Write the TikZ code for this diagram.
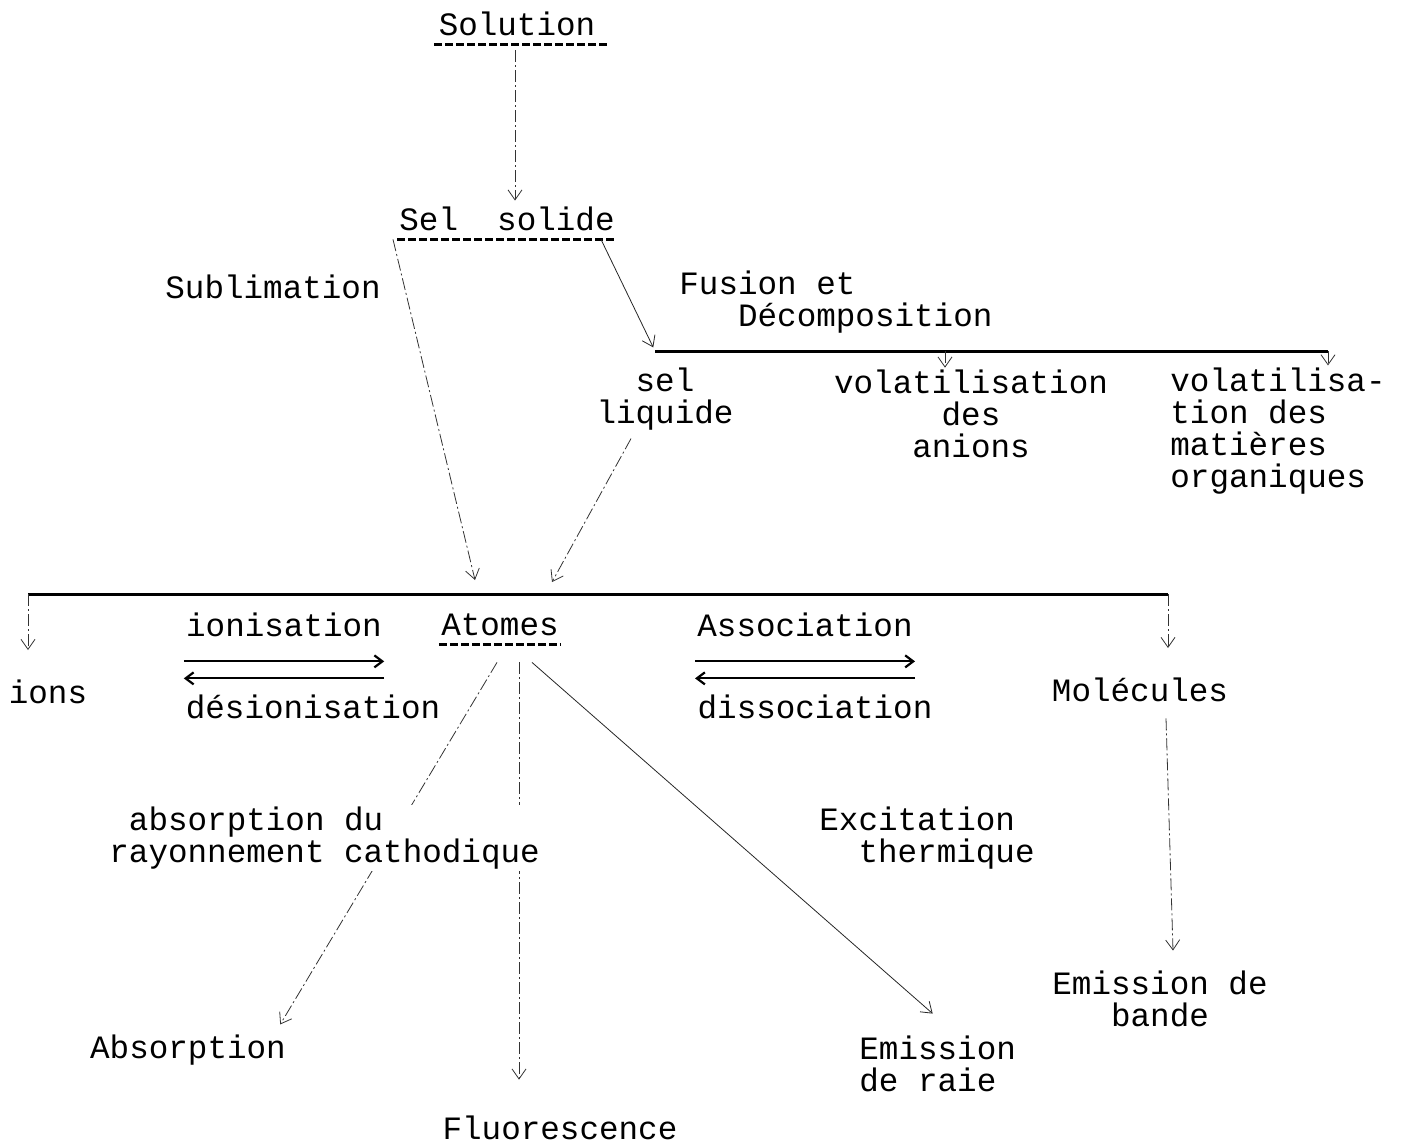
\documentclass[tikz,border=0pt]{standalone}
\usepackage{fontspec}
\setmainfont{Liberation Mono}
\usetikzlibrary{arrows.meta, positioning, calc}
\newcommand{\typed}{\fontsize{16.3pt}{16pt}\selectfont}

\begin{document}
\begin{tikzpicture}[x=0.5pt, y=-0.5pt,
  every node/.style={font=\typed, inner sep=1pt},
  link/.style={thin, black!80, dash pattern=on 6pt off 1.5pt on 1pt off 1.5pt,
    -{Straight Barb[length=5pt,width=7pt]}},
  plainlink/.style={thin, black!85, -{Straight Barb[length=5pt,width=7pt]}},
  bar/.style={line width=1.5pt},
  uline/.style={line width=1.4pt, dash pattern=on 4pt off 1.5pt},
  eqarrow/.style={line width=1.1pt, -{Straight Barb[length=4pt,width=6pt]}},
  procname/.style={fill=white, align=left, anchor=west}]
% Page frame
\useasboundingbox (0,0) rectangle (1401,1145);

% States of the sample
\node (sol) at (517,24) {Solution};
\node (sel) at (507,219) {Sel\ \ solide};
\node[align=center] (liq) at (665,399) {sel\\liquide};
\node[align=center] (anions) at (971,414) {volatilisation\\des\\anions};
\node[align=left, anchor=west] (orga) at (1168,431) {volatilisa-\\tion des\\matières\\organiques};
\node (atom) at (500,625) {Atomes};
\node (ions) at (48,692) {ions};
\node (mol) at (1140,690) {Molécules};
\node (abs) at (188,1050) {Absorption};
\node (fluo) at (560,1128) {Fluorescence};
\node[align=left, anchor=west] (raie) at (857,1064) {Emission\\de raie};
\node[align=center] (bande) at (1160,999) {Emission de\\bande};

% Process names
\node (subl) at (273,287) {Sublimation};
\node[align=left, anchor=west] (fus) at (677,302) {Fusion et\\\hspace*{1.8em}Décomposition};
\node (ionis) at (284,625) {ionisation};
\node (desion) at (313,707) {désionisation};
\node (assoc) at (805,625) {Association};
\node (diss) at (815,707) {dissociation};

% Underlines
\draw[uline] ([xshift=-1pt,yshift=-3pt]sol.south west) -- ([xshift=6pt,yshift=-3pt]sol.south east);
\draw[uline] ([yshift=-3pt]sel.south west) -- ([yshift=-3pt]sel.south east);
\draw[uline] ([yshift=-3pt]atom.south west) -- ([yshift=-3pt]atom.south east);

% Bars
\coordinate (fusL) at (655,351);
\coordinate (fusA) at (945,351);
\coordinate (fusR) at (1328,351);
\draw[bar] (fusL) -- (fusR);
\coordinate (atL) at (28,594);
\coordinate (atR) at (1168,594);
\coordinate (atIn1) at (475,580);
\coordinate (atIn2) at (552,582);
\draw[bar] (atL) -- (atR);

% Connectors
\draw[link] ([xshift=-1pt,yshift=-6pt]sol.south) -- ([xshift=4pt,yshift=2pt]sel.north);
\draw[link] ([xshift=-2pt,yshift=-3pt]sel.south west) -- (atIn1);
\draw[plainlink, shorten >=2pt] ([xshift=-8pt,yshift=-3pt]sel.south east) -- (fusL);
\draw[link] (fusA) -- (fusA |- anions.north);
\draw[link] (fusR) -- (fusR |- orga.north);
\draw[link] ([xshift=-17pt,yshift=-3pt]liq.south) -- (atIn2);
\draw[link] (atL) -- ++(0,56);
\draw[link] (atR) -- ++(0,54);

% Equilibria
\draw[eqarrow] ([yshift=-11pt]ionis.south west) -- ([yshift=-11pt]ionis.south east);
\draw[eqarrow] ([yshift=-19.5pt]ionis.south east) -- ([yshift=-19.5pt]ionis.south west);
\draw[eqarrow] ([yshift=-11pt]assoc.south west) -- ([yshift=-11pt]assoc.south east);
\draw[eqarrow] ([yshift=-19.5pt]assoc.south east) -- ([yshift=-19.5pt]assoc.south west);

% From the atoms
\draw[link] ([xshift=-1.5pt,yshift=-12pt]atom.south) -- ([xshift=-4pt,yshift=4pt]abs.north east);
\draw[link] ([xshift=9.5pt,yshift=-12pt]atom.south) -- ([xshift=-20.5pt,yshift=17pt]fluo.north);
\draw[plainlink] ([xshift=16pt,yshift=-12pt]atom.south) -- ([xshift=-2.5pt,yshift=10pt]raie.north);
\draw[link] ([xshift=13pt,yshift=-7pt]mol.south) -- ([xshift=6.5pt,yshift=9pt]bande.north);

% Labels over the lines
\node[procname] (absl) at (107,838) {\hspace*{0.6em}absorption du\\rayonnement cathodique};
\node[procname] (exc) at (817,838) {Excitation\\\hspace*{1.2em}thermique};
\end{tikzpicture}
\end{document}
